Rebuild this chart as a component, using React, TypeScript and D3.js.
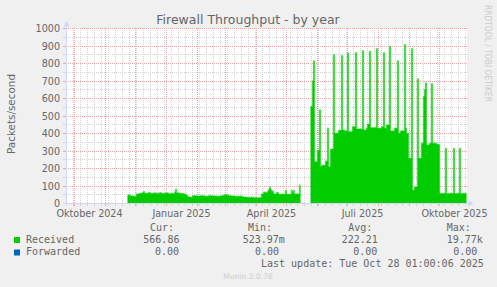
import React from "react";
import * as d3 from "d3";

const W = 497;
const H = 287;

const rangeStart = "2024-09-23";
const rangeEnd = "2025-10-28";

const yTicks = [0, 100, 200, 300, 400, 500, 600, 700, 800, 900, 1000];
const yMinorTicks = [50, 150, 250, 350, 450, 550, 650, 750, 850, 950];

const xTickLabels: [string, string][] = [
  ["2024-10-16", "Oktober 2024"],
  ["2025-01-16", "Januar 2025"],
  ["2025-04-16", "April 2025"],
  ["2025-07-16", "Juli 2025"],
  ["2025-10-16", "Oktober 2025"],
];

// Received packets/second (daily averages), null = no data
const receivedSeries: [string, number | null][] = [
  ["2024-11-23", 47], ["2024-11-26", 43], ["2024-11-29", 40],
  ["2024-12-02", 55], ["2024-12-05", 58], ["2024-12-08", 62], ["2024-12-09", 67], ["2024-12-10", 58],
  ["2024-12-14", 62], ["2024-12-16", 57], ["2024-12-19", 60], ["2024-12-22", 57], ["2024-12-25", 62],
  ["2024-12-27", 57], ["2024-12-31", 60],
  ["2025-01-03", 56], ["2025-01-06", 58], ["2025-01-08", 55], ["2025-01-09", 65], ["2025-01-10", 82],
  ["2025-01-11", 60], ["2025-01-14", 57], ["2025-01-18", 55], ["2025-01-20", 48], ["2025-01-22", 39],
  ["2025-01-24", 36], ["2025-01-27", 44], ["2025-01-31", 43],
  ["2025-02-04", 45], ["2025-02-08", 42], ["2025-02-12", 44], ["2025-02-16", 43], ["2025-02-20", 42],
  ["2025-02-24", 45], ["2025-02-27", 47],
  ["2025-03-01", 50], ["2025-03-03", 46], ["2025-03-06", 43], ["2025-03-10", 41], ["2025-03-14", 42],
  ["2025-03-18", 37], ["2025-03-22", 35], ["2025-03-26", 36], ["2025-03-29", 33],
  ["2025-04-02", 33], ["2025-04-06", 55], ["2025-04-08", 64], ["2025-04-10", 62], ["2025-04-12", 68],
  ["2025-04-13", 80], ["2025-04-14", 92], ["2025-04-15", 80], ["2025-04-16", 70], ["2025-04-18", 55],
  ["2025-04-21", 62], ["2025-04-23", 53], ["2025-04-30", 74],
  ["2025-05-01", 53], ["2025-05-06", 74], ["2025-05-07", 62], ["2025-05-08", 74], ["2025-05-09", 54],
  ["2025-05-14", 105], ["2025-05-15", 105], ["2025-05-16", null],
  ["2025-05-25", 554], ["2025-05-27", 700], ["2025-05-28", 815], ["2025-05-29", 239],
  ["2025-06-01", 305], ["2025-06-03", 535], ["2025-06-04", 210], ["2025-06-05", 218], ["2025-06-09", 242],
  ["2025-06-11", 430], ["2025-06-12", 210], ["2025-06-14", 311], ["2025-06-17", 850], ["2025-06-18", 401],
  ["2025-06-22", 418], ["2025-06-25", 844], ["2025-06-26", 420], ["2025-06-28", 414],
  ["2025-07-01", 860], ["2025-07-02", 410], ["2025-07-06", 439], ["2025-07-09", 862], ["2025-07-10", 426],
  ["2025-07-16", 873], ["2025-07-17", 420], ["2025-07-20", 430], ["2025-07-21", 453], ["2025-07-23", 869],
  ["2025-07-24", 433], ["2025-07-30", 884], ["2025-07-31", 430],
  ["2025-08-04", 439], ["2025-08-06", 860], ["2025-08-07", 430], ["2025-08-09", 449], ["2025-08-12", 898],
  ["2025-08-13", 414], ["2025-08-17", 430], ["2025-08-20", 815], ["2025-08-21", 401], ["2025-08-23", 414],
  ["2025-08-27", 907], ["2025-08-28", 430], ["2025-08-29", 401], ["2025-08-31", 258],
  ["2025-09-03", 884], ["2025-09-04", 76], ["2025-09-06", 95], ["2025-09-09", 712], ["2025-09-10", 258],
  ["2025-09-13", 344], ["2025-09-15", 611], ["2025-09-16", 650], ["2025-09-17", 688], ["2025-09-18", 334],
  ["2025-09-21", 344], ["2025-09-23", 684], ["2025-09-24", 344], ["2025-09-28", 338], ["2025-09-30", 334],
  ["2025-10-01", 57], ["2025-10-07", 315], ["2025-10-08", 57], ["2025-10-15", 315], ["2025-10-16", 57],
  ["2025-10-21", 315], ["2025-10-22", 57], ["2025-10-28", 57],
];

const legendHeaders = ["Cur:", "Min:", "Avg:", "Max:"];
const legendRows = [
  { name: "Received", color: "#00CC00", values: ["566.86", "523.97m", "222.21", "19.77k"] },
  { name: "Forwarded", color: "#0066B3", values: ["0.00", "0.00", "0.00", "0.00"] },
];
const lastUpdate = "Last update: Tue Oct 28 01:00:06 2025";

const parse = d3.utcParse("%Y-%m-%d");

export default function App() {
  const x = d3
    .scaleUtc()
    .domain([parse(rangeStart)!, parse(rangeEnd)!])
    .range([66.5, 466.5]);
  const y = d3.scaleLinear().domain([0, 1000]).range([203.5, 28.5]);
  const crisp = (v: number) => Math.round(v - 0.5) + 0.5;

  const data = receivedSeries.map(([d, v]) => ({ t: parse(d)!, v }));
  const area = d3
    .area<{ t: Date; v: number | null }>()
    .defined((d) => d.v !== null)
    .x((d) => x(d.t))
    .y0(y(0))
    .y1((d) => y(d.v as number))
    .curve(d3.curveStepAfter);
  const edge = d3
    .line<{ t: Date; v: number | null }>()
    .defined((d) => d.v !== null)
    .x((d) => x(d.t))
    .y((d) => y(d.v as number))
    .curve(d3.curveStepAfter);

  const start = parse(rangeStart)!;
  const end = parse(rangeEnd)!;
  const months = d3.utcMonth.range(start, end);
  const monthKeys = new Set(months.map((m) => +m));
  const weeks = d3.utcMonday.range(d3.utcDay.offset(start, 1), end).filter((w) => !monthKeys.has(+w));

  const majorColor = "#eaa6a6";
  const minorColor = "#d4d4d4";
  const axisColor = "#CFD6F8";
  const fontColor = "#666666";
  const sans = "'DejaVu Sans', sans-serif";
  const mono = "'DejaVu Sans Mono', monospace";

  const colStart = [
    { head: 150, vals: [143.3, 155] },
    { head: 248, vals: [242.7, 255] },
    { head: 348.3, vals: [341.7, 353.3] },
    { head: 446.7, vals: [446.7, 453.3] },
  ];

  return (
    <svg width={W} height={H} style={{ display: "block", position: "absolute", left: 0, top: 0 }}>
      <rect x={0} y={0} width={W} height={H} fill="#F0F0F0" />
      <rect x={66} y={28} width={401} height={176} fill="#FFFFFF" />

      {/* minor horizontal grid */}
      {yMinorTicks.map((v) => (
        <g key={"ym" + v}>
          <line x1={66} x2={467} y1={crisp(y(v))} y2={crisp(y(v))} stroke={minorColor} strokeDasharray="1,1" />
          <line x1={63} x2={66} y1={crisp(y(v))} y2={crisp(y(v))} stroke={minorColor} />
        </g>
      ))}
      {/* weekly vertical grid */}
      {weeks.map((w) => (
        <g key={"w" + +w}>
          <line x1={x(w)} x2={x(w)} y1={28} y2={203} stroke={minorColor} strokeDasharray="1,1" />
          <line x1={x(w)} x2={x(w)} y1={203} y2={206} stroke={minorColor} />
        </g>
      ))}
      {/* major horizontal grid */}
      {yTicks.map((v) => (
        <g key={"yM" + v}>
          <line x1={66} x2={467} y1={crisp(y(v))} y2={crisp(y(v))} stroke={majorColor} strokeDasharray="1,1" />
          <line x1={63} x2={66} y1={crisp(y(v))} y2={crisp(y(v))} stroke={majorColor} />
        </g>
      ))}
      {/* monthly vertical grid */}
      {months.map((m) => (
        <g key={"m" + +m}>
          <line x1={x(m)} x2={x(m)} y1={28} y2={203} stroke={majorColor} strokeDasharray="1,1" />
          <line x1={x(m)} x2={x(m)} y1={203} y2={206} stroke={majorColor} />
        </g>
      ))}

      <path d={edge(data) || ""} fill="none" stroke="#00CC00" strokeOpacity={0.45} strokeWidth={1.4} />
      <path d={area(data) || ""} fill="#00CC00" />

      {/* axes */}
      <line x1={66.5} x2={66.5} y1={206} y2={26} stroke={axisColor} />
      <path d="M63.5,26.5 L69.5,26.5 L66.5,21 Z" fill={axisColor} />
      <line x1={63} x2={468} y1={203.5} y2={203.5} stroke={axisColor} />
      <path d="M468,200.5 L468,206.5 L473.5,203.5 Z" fill={axisColor} />

      {/* y tick labels */}
      {yTicks.map((v) => (
        <text key={"yl" + v} x={60} y={y(v) + 3.5} textAnchor="end" fontFamily={sans} fontSize={9.6} fill={fontColor}>
          {v}
        </text>
      ))}
      {/* x tick labels */}
      {xTickLabels.map(([d, label]) => (
        <text key={label} x={x(parse(d)!)} y={216.5} textAnchor="middle" fontFamily={sans} fontSize={9.6} fill={fontColor}>
          {label}
        </text>
      ))}

      <text x={248} y={23.5} textAnchor="middle" fontFamily={sans} fontSize={12.5} fill={fontColor}>
        Firewall Throughput - by year
      </text>
      <text transform="translate(15,114) rotate(-90)" textAnchor="middle" fontFamily={sans} fontSize={10.4} fill={fontColor}>
        Packets/second
      </text>
      <text transform="translate(485,5) rotate(90)" fontFamily={sans} fontSize={9} fill="#CCCCCC" textLength={97} lengthAdjust="spacingAndGlyphs">
        RRDTOOL / TOBI OETIKER
      </text>

      {/* legend */}
      {legendHeaders.map((h, i) => (
        <text key={h} x={colStart[i].head} y={231} fontFamily={mono} fontSize={10} fill={fontColor}>
          {h}
        </text>
      ))}
      {legendRows.map((row, r) => (
        <g key={row.name}>
          <rect x={14} y={237 + r * 12.5} width={6} height={6} fill={row.color} />
          <text x={26} y={243 + r * 12.3} fontFamily={mono} fontSize={10} fill={fontColor}>
            {row.name}
          </text>
          {row.values.map((v, i) => (
            <text key={i} x={colStart[i].vals[r]} y={243 + r * 12.3} fontFamily={mono} fontSize={10} fill={fontColor}>
              {v}
            </text>
          ))}
        </g>
      ))}
      <text x={261} y={267} fontFamily={mono} fontSize={10} fill={fontColor}>
        {lastUpdate}
      </text>
      <text x={248} y={279} textAnchor="middle" fontFamily={sans} fontSize={7.6} fill="#CCCCCC">
        Munin 2.0.76
      </text>
    </svg>
  );
}
